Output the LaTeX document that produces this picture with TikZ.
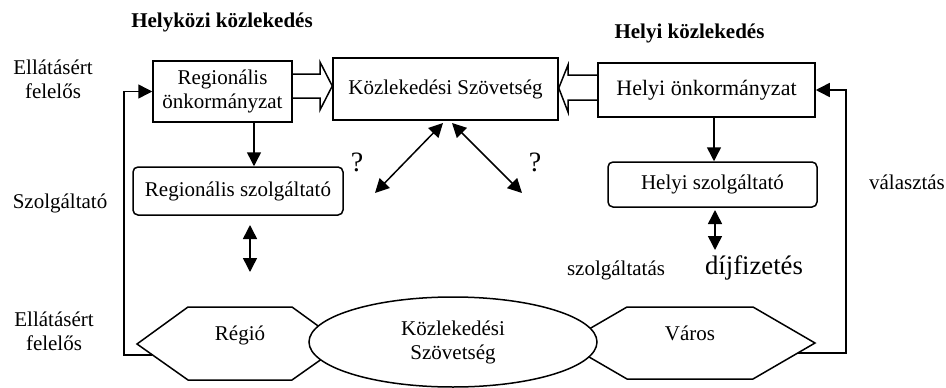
\documentclass[tikz,border=0pt]{standalone}
\usepackage{fontspec}
\setmainfont{Liberation Serif}
\usetikzlibrary{arrows.meta,shapes.geometric,calc}
\tikzset{
  base/.style={font=\fontsize{21}{24}\selectfont, align=center, inner sep=0pt},
  box/.style={base, draw, line width=1.5pt},
  rbox/.style={box, rounded corners=5pt},
  lbl/.style={base},
  head/.style={base, font=\fontsize{21}{24}\selectfont\bfseries},
  ln/.style={line width=1.5pt},
  arr/.style={ln, -{Triangle[length=14pt,width=14pt]}},
  darr/.style={ln, {Triangle[length=14pt,width=14pt]}-{Triangle[length=14pt,width=14pt]}},
}
\begin{document}
\begin{tikzpicture}[x=1pt,y=-1pt]
\useasboundingbox (0,0) rectangle (946,388);
% headings
\node[head] (h1) at (222,22) {Helyközi közlekedés};
\node[head] (h2) at (689.5,33) {Helyi közlekedés};
% side labels
\node[lbl] (l1) at (53,79) {Ellátásért\\felelős};
\node[lbl] (l2) at (60,203) {Szolgáltató};
\node[lbl] (l3) at (54,331) {Ellátásért\\felelős};
\node[lbl] (l4) at (907,182) {választás};
% boxes
\node[box, minimum width=139pt, minimum height=61pt] (reg) at (222.5,91.5) {Regionális\\önkormányzat};
\node[box, minimum width=225pt, minimum height=62pt] (kozl) at (445.5,89) {Közlekedési Szövetség};
\node[box, minimum width=217pt, minimum height=54pt, font=\fontsize{22}{24}\selectfont] (helyi) at (706.5,90) {Helyi önkormányzat};
\node[rbox, minimum width=210pt, minimum height=48pt] (regsz) at (238,191) {Regionális szolgáltató};
\node[rbox, minimum width=209pt, minimum height=45pt] (helyisz) at (712.5,184.5) {Helyi szolgáltató};
% hollow block arrows
\draw[ln, line join=miter] (reg.east |- 0,74) -- (320,74) -- (320,62) -- (kozl.west |- 0,86) -- (320,110) -- (320,98) -- (reg.east |- 0,98);
\draw[ln, line join=miter] (helyi.west |- 0,75) -- (568,75) -- (568,65) -- (kozl.east |- 0,88) -- (568,112) -- (568,100) -- (helyi.west |- 0,100);
% down arrows
\coordinate (xa) at (254,0);
\coordinate (xb) at (714,0);
\draw[arr] (reg.south -| xa) -- (regsz.north -| xa);
\draw[arr] (helyi.south -| xb) -- (helyisz.north -| xb);
% diagonal double arrows
\coordinate (k1) at (443,123);
\coordinate (k2) at (452,123);
\coordinate (d1) at (375,193);
\coordinate (d2) at (522,193);
\draw[darr] (k1) -- (d1);
\draw[darr] (k2) -- (d2);
\node[lbl, font=\fontsize{28}{30}\selectfont] (q1) at (357,162) {?};
\node[lbl, font=\fontsize{28}{30}\selectfont] (q2) at (535,162) {?};
% vertical double arrows
\coordinate (v1a) at (250,225);
\coordinate (v1b) at (250,272);
\coordinate (v2a) at (715,210);
\coordinate (v2b) at (715,250);
\draw[darr] (v1a) -- (v1b);
\draw[darr] (v2a) -- (v2b);
\node[lbl] (szolg) at (616,270) {szolgáltatás};
\node[lbl, font=\fontsize{26.7}{30}\selectfont] (dij) at (754,268) {díjfizetés};
% hexagons
\draw[ln, line join=miter] (137,344) coordinate (rgl) -- (188,307) -- (292,307) -- (343,344) -- (292,380) -- (188,380) -- cycle;
\node[lbl] (regio) at (240,335) {Régió};
\draw[ln, line join=miter] (565,343) -- (627,307) -- (753,307) -- (815,343) coordinate (vr) -- (753,379) -- (627,379) -- cycle;
\node[lbl] (varos) at (690,333) {Város};
% ellipse
\node[ellipse, draw, ln, fill=white, minimum width=288pt, minimum height=90pt, base] (ell) at (453,342) {Közlekedési\\Szövetség};
% feedback lines
\coordinate (fbl) at (152,355);
\coordinate (fbr) at (798,353);
\draw[arr] (fbl) -- (124,355) -- (124,0 |- reg.west) -- (reg.west);
\draw[arr] (fbr) -- (846,353) -- (846,0 |- helyi.east) -- (helyi.east);
\end{tikzpicture}
\end{document}
